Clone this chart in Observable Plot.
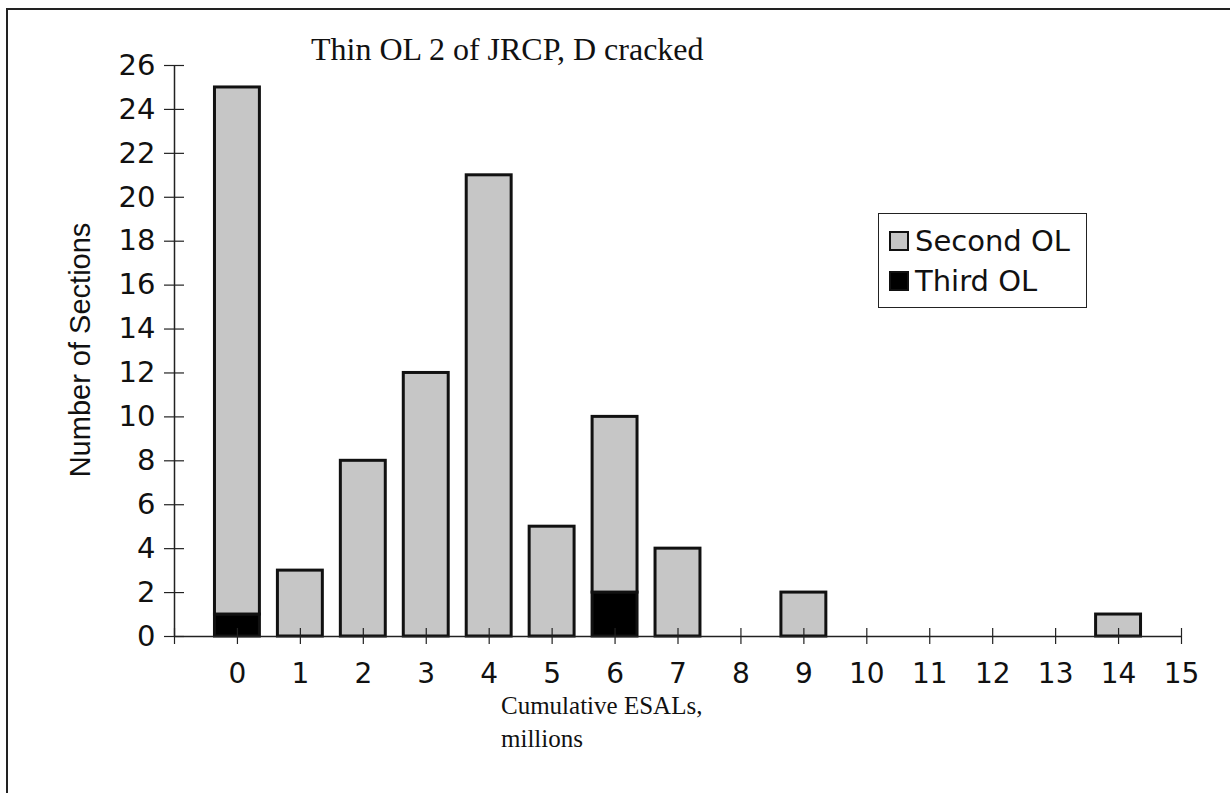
<!DOCTYPE html>
<html>
<head>
<meta charset="utf-8">
<script src="https://cdn.jsdelivr.net/npm/d3@7"></script>
<script src="https://cdn.jsdelivr.net/npm/@observablehq/plot@0.6"></script>
<style>
  html, body { margin: 0; padding: 0; background: #fff; }
  #wrap { position: relative; width: 1230px; height: 793px; overflow: hidden; }
  #frame { position: absolute; left: 6px; top: 8px; width: 1240px; height: 800px;
           border-top: 2px solid #222; border-left: 2px solid #222; }
  #chart { position: absolute; left: 0; top: 0; }
  .serif { position: absolute; font-family: "Liberation Serif", "Times New Roman", serif; color: #111; white-space: nowrap; }
  #title { left: 311px; top: 29px; font-size: 32px; line-height: 40px; }
  #xtitle { left: 501px; top: 689px; font-size: 25px; line-height: 33px; }
  #ytitle { position: absolute; left: 80px; top: 350px; font-family: "Liberation Sans", Arial, sans-serif;
            font-size: 29px; color: #111; white-space: nowrap; transform: translate(-50%, -50%) rotate(-90deg); }
  #legend { position: absolute; left: 878px; top: 213px; width: 207px; height: 93px;
            border: 1.5px solid #222; font-family: "DejaVu Sans", sans-serif; font-size: 29px; color: #111; }
  .item { position: absolute; left: 10px; display: flex; align-items: center; }
  .sw { width: 20px; height: 20px; margin-right: 6px; box-sizing: border-box; border: 2.5px solid #111; }
  #chart g.yax text { font-family: "DejaVu Sans", sans-serif; font-size: 29px; }
  #chart g.xax text { font-family: "DejaVu Sans", sans-serif; font-size: 28px; }
</style>
</head>
<body>
<div id="wrap">
  <div id="frame"></div>
  <div id="chart"></div>
  <div id="title" class="serif">Thin OL 2 of JRCP, D cracked</div>
  <div id="xtitle" class="serif">Cumulative ESALs,<br>millions</div>
  <div id="ytitle">Number of Sections</div>
  <div id="legend"></div>
</div>
<script>
// ---- data ----
const categories = [0, 1, 2, 3, 4, 5, 6, 7, 8, 9, 10, 11, 12, 13, 14, 15];
const secondOL  = [24, 3, 8, 12, 21, 5, 8, 4, 0, 2, 0, 0, 0, 0, 1, 0];
const thirdOL   = [1, 0, 0, 0, 0, 0, 2, 0, 0, 0, 0, 0, 0, 0, 0, 0];
const seriesNames = ["Second OL", "Third OL"];
const seriesColors = ["#c6c6c6", "#000000"];
const yTicks = [0, 2, 4, 6, 8, 10, 12, 14, 16, 18, 20, 22, 24, 26];
const xTicks = [-1, ...categories];

// stacked rows: Third OL at the bottom, Second OL on top
const rows = [];
categories.forEach((c, i) => {
  if (thirdOL[i] > 0) rows.push({x: c, y1: 0, y2: thirdOL[i], series: seriesNames[1]});
  if (secondOL[i] > 0) rows.push({x: c, y1: thirdOL[i], y2: thirdOL[i] + secondOL[i], series: seriesNames[0]});
});
const half = 0.357;

const plot = Plot.plot({
  width: 1230,
  height: 793,
  marginLeft: 174,
  marginRight: 49,
  marginTop: 65,
  marginBottom: 157,
  style: {fontFamily: "'DejaVu Sans', sans-serif", fontSize: "28px", color: "#111", background: "transparent"},
  x: {type: "linear", domain: [-1, 15]},
  y: {domain: [0, 26]},
  color: {domain: seriesNames, range: seriesColors},
  marks: [
    Plot.rect(rows, {x1: d => d.x - half, x2: d => d.x + half, y1: "y1", y2: "y2",
                     fill: "series", stroke: "#111", strokeWidth: 3}),
    Plot.ruleY([0], {stroke: "#222", strokeWidth: 1.5}),
    Plot.ruleX([-1], {stroke: "#222", strokeWidth: 1.5}),
    Plot.axisY({ticks: yTicks, tickSize: 20, dx: 10, tickPadding: 9, label: null,
                stroke: "#222", strokeWidth: 1.2}),
    Plot.axisX({ticks: xTicks, tickSize: 16, dy: -8, tickPadding: 19, label: null,
                tickFormat: d => d < 0 ? "" : String(d), stroke: "#222", strokeWidth: 1.2})
  ]
});
// tag axis groups so CSS can size their labels
plot.querySelectorAll("g[aria-label='y-axis tick label']").forEach(g => g.classList.add("yax"));
plot.querySelectorAll("g[aria-label='x-axis tick label']").forEach(g => g.classList.add("xax"));
document.getElementById("chart").appendChild(plot);

// legend
const legend = document.getElementById("legend");
seriesNames.forEach((name, i) => {
  const it = document.createElement("div");
  it.className = "item";
  it.style.top = (i === 0 ? 10 : 50) + "px";
  const sw = document.createElement("div");
  sw.className = "sw";
  sw.style.background = seriesColors[i];
  const t = document.createElement("span");
  t.textContent = name;
  it.appendChild(sw); it.appendChild(t);
  legend.appendChild(it);
});
</script>
</body>
</html>
